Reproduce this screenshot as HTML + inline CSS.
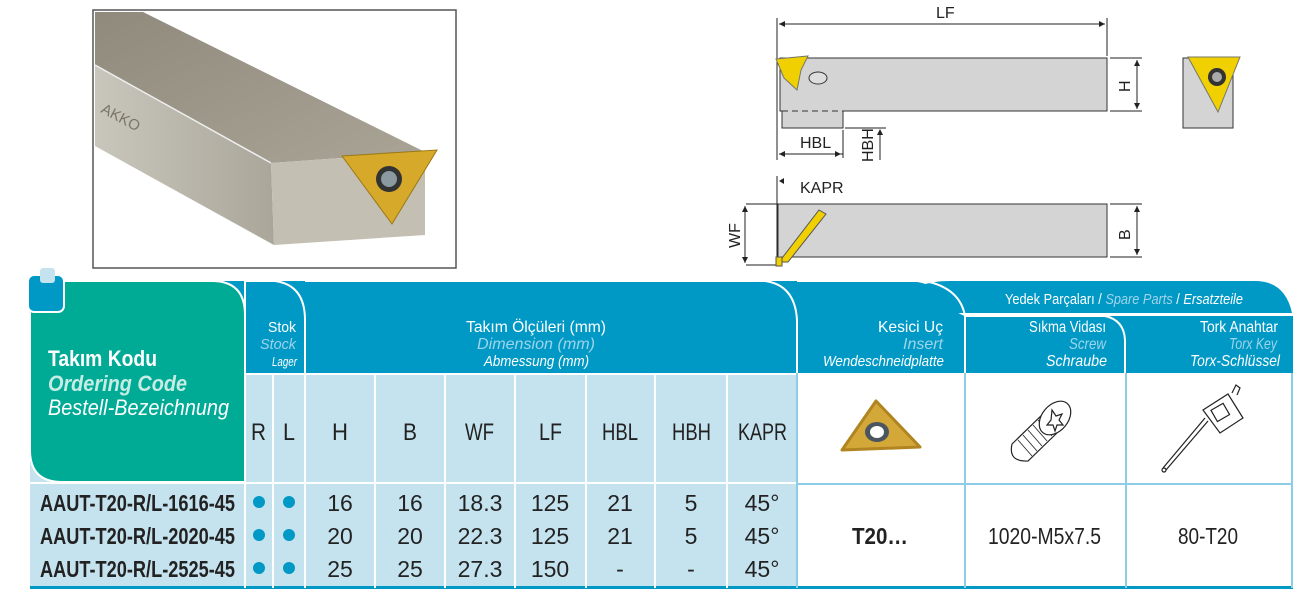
<!DOCTYPE html>
<html><head><meta charset="utf-8"><style>
html,body{margin:0;padding:0;background:#fff;width:1297px;height:596px;overflow:hidden}
svg{display:block}
text{font-family:"Liberation Sans",sans-serif}
</style></head><body>
<svg width="1297" height="596" viewBox="0 0 1297 596" xmlns="http://www.w3.org/2000/svg">
<defs>
<linearGradient id="top" x1="0" y1="0" x2="1" y2="1"><stop offset="0" stop-color="#8f8a7c"/><stop offset="1" stop-color="#a9a496"/></linearGradient>
<linearGradient id="side" x1="0" y1="0" x2="1" y2="0"><stop offset="0" stop-color="#c9c6bc"/><stop offset="1" stop-color="#aaa69a"/></linearGradient>
</defs>
<!-- photo -->
<rect x="93" y="10" width="363" height="258" fill="#fff" stroke="#555" stroke-width="1.5"/>
<polygon points="95,12 143,12 425,152 271,163 95,65" fill="url(#top)"/>
<polygon points="95,65 271,163 274,245 95,146" fill="url(#side)"/>
<polygon points="271,163 425,152 425,235 274,245" fill="#c3bfb3"/>
<line x1="95" y1="65" x2="271" y2="163" stroke="#eee" stroke-width="1.5"/>
<polygon points="342,156 437,150 392,224" fill="#d6a92a" stroke="#9a7812"/>
<circle cx="389" cy="179" r="13" fill="#333"/><circle cx="389" cy="179" r="8" fill="#8a9aa0"/>
<text x="100" y="112" font-size="15" fill="#7a7568" font-family="Liberation Serif,serif" transform="rotate(28 100 112)">AKKO</text>
<!-- top view drawing -->
<g stroke="#222" stroke-width="1" fill="none">
<line x1="777" y1="18" x2="777" y2="160"/><line x1="1107" y1="18" x2="1107" y2="56"/>
<line x1="779" y1="24" x2="1105" y2="24"/>
<line x1="1110" y1="58" x2="1142" y2="58"/><line x1="1110" y1="111" x2="1142" y2="111"/>
<line x1="1137" y1="60" x2="1137" y2="109"/>
<line x1="779" y1="154" x2="843" y2="154"/><line x1="843" y1="130" x2="843" y2="158"/>
<line x1="880" y1="90" x2="880" y2="109"/><line x1="880" y1="130" x2="880" y2="160"/>
<line x1="845" y1="128" x2="886" y2="128"/>
<line x1="746" y1="204" x2="778" y2="204"/><line x1="746" y1="265" x2="778" y2="265"/>
<line x1="745" y1="206" x2="745" y2="263"/>
<line x1="777" y1="176" x2="777" y2="265"/>
<line x1="1110" y1="204" x2="1142" y2="204"/><line x1="1110" y1="257" x2="1142" y2="257"/>
<line x1="1137" y1="206" x2="1137" y2="255"/>
</g>
<g fill="#222">
<polygon points="779,24 785,21 785,27"/><polygon points="1105,24 1099,21 1099,27"/>
<polygon points="1137,60 1134,66 1140,66"/><polygon points="1137,109 1134,103 1140,103"/>
<polygon points="779,154 785,151 785,157"/><polygon points="841,154 835,151 835,157"/>
<polygon points="880,110 877,104 883,104"/><polygon points="880,129 877,135 883,135"/>
<polygon points="745,206 742,212 748,212"/><polygon points="745,263 742,257 748,257"/>
<polygon points="1137,206 1134,212 1140,212"/><polygon points="1137,255 1134,249 1140,249"/>
<polygon points="779,181 784,178 784,184"/>
</g>
<rect x="780" y="58" width="327" height="53" fill="#d4d4d4" stroke="#333"/>
<rect x="782" y="111" width="61" height="17" fill="#d4d4d4" stroke="#333"/>
<line x1="783" y1="111" x2="842" y2="111" stroke="#d4d4d4" stroke-width="2"/>
<line x1="782" y1="111" x2="838" y2="111" stroke="#333" stroke-dasharray="6,4"/>
<polygon points="776,59 808,56 801,70 797,90 784,78" fill="#f0d000" stroke="#776"/>
<ellipse cx="818" cy="78" rx="9" ry="6" fill="#ddd" stroke="#333"/>
<rect x="1183" y="58" width="50" height="70" fill="#d4d4d4" stroke="#333"/>
<polygon points="1188,57 1240,57 1218,112" fill="#f0d000" stroke="#776"/>
<circle cx="1217" cy="77" r="9" fill="#333"/><circle cx="1217" cy="77" r="5" fill="#aaa"/>
<rect x="778" y="204" width="329" height="53" fill="#d4d4d4" stroke="#333"/>
<polygon points="779,262 819,210 826,214 788,262" fill="#f0d000" stroke="#555"/>
<rect x="776" y="257" width="6" height="9" fill="#f0d000" stroke="#555"/>
<g font-size="16" fill="#222">
<text x="936" y="18">LF</text>
<text x="800" y="148">HBL</text>
<text x="800" y="193">KAPR</text>
<text transform="translate(1130,92) rotate(-90)">H</text>
<text transform="translate(873,162) rotate(-90)">HBH</text>
<text transform="translate(740,248) rotate(-90)">WF</text>
<text transform="translate(1130,240) rotate(-90)">B</text>
</g>
<!-- table -->
<rect x="30" y="373" width="1263" height="215" fill="#c5e3ef"/>
<rect x="797" y="373" width="496" height="215" fill="#fff"/>
<rect x="30" y="586" width="1263" height="3" fill="#0099c6"/>
<!-- header tabs -->
<path d="M200,373 V281 H905 Q935,281 945,300 Q955,313 965,316 H1293 V373 Z" fill="#0099c6"/>
<path d="M903,313 V300 Q915,281 950,281 H1255 Q1285,281 1292,313 Z" fill="#0099c6"/>
<path d="M245,373 V281 H275 Q305,285 305,320 V373" fill="none" stroke="#fff" stroke-width="2"/>
<path d="M305,281 H765 Q795,285 797,320 V373" fill="none" stroke="#fff" stroke-width="2"/>
<path d="M797,281 H925 Q960,288 965,316 V373" fill="none" stroke="#fff" stroke-width="2"/>
<path d="M965,316 H1105 Q1124,320 1125,340 V373" fill="none" stroke="#fff" stroke-width="2"/>
<line x1="965" y1="315" x2="1293" y2="315" stroke="#fff" stroke-width="2"/>
<!-- teal -->
<path d="M30,281 H212 Q245,281 245,315 V482 H62 Q30,482 30,450 Z" fill="#00ab96" stroke="#fff" stroke-width="2"/>
<rect x="28" y="275" width="36" height="37" rx="6" fill="#0099c6" stroke="#fff" stroke-width="2"/>
<rect x="40" y="268" width="15" height="15" rx="3" fill="#c5e3ef"/>
<!-- grid lines -->
<g stroke="#fff" stroke-width="2">
<line x1="30" y1="483" x2="797" y2="483"/>
<line x1="245" y1="374" x2="797" y2="374"/>
<line x1="245" y1="373" x2="245" y2="588"/><line x1="273" y1="373" x2="273" y2="588"/>
<line x1="305" y1="373" x2="305" y2="588"/><line x1="375" y1="373" x2="375" y2="588"/>
<line x1="445" y1="373" x2="445" y2="588"/><line x1="515" y1="373" x2="515" y2="588"/>
<line x1="586" y1="373" x2="586" y2="588"/><line x1="655" y1="373" x2="655" y2="588"/>
<line x1="727" y1="373" x2="727" y2="588"/>
</g>
<g stroke="#8fcde6" stroke-width="2">
<line x1="797" y1="373" x2="797" y2="588"/><line x1="965" y1="373" x2="965" y2="588"/>
<line x1="1126" y1="373" x2="1126" y2="588"/><line x1="1292" y1="373" x2="1292" y2="588"/>
<line x1="797" y1="484" x2="1293" y2="484"/>
</g>
<!-- header text -->
<g fill="#fff" lengthAdjust="spacingAndGlyphs">
<text x="48" y="366" font-size="22" font-weight="bold" textLength="109" lengthAdjust="spacingAndGlyphs">Takım Kodu</text>
<text x="48" y="391" font-size="22" font-weight="bold" font-style="italic" fill="#c6ece4" textLength="139" lengthAdjust="spacingAndGlyphs">Ordering Code</text>
<text x="48" y="415" font-size="22" font-style="italic" textLength="181" lengthAdjust="spacingAndGlyphs">Bestell-Bezeichnung</text>
<text x="268" y="332" font-size="15" textLength="28" lengthAdjust="spacingAndGlyphs">Stok</text>
<text x="260" y="349" font-size="15" font-style="italic" fill="#9fd4ea" textLength="36" lengthAdjust="spacingAndGlyphs">Stock</text>
<text x="272" y="366" font-size="13" font-style="italic" textLength="25" lengthAdjust="spacingAndGlyphs">Lager</text>
<text x="878" y="332" font-size="16" textLength="65" lengthAdjust="spacingAndGlyphs">Kesici Uç</text>
<text x="903" y="349" font-size="16" font-style="italic" fill="#9fd4ea" textLength="40" lengthAdjust="spacingAndGlyphs">Insert</text>
<text x="823" y="366" font-size="15" font-style="italic" textLength="121" lengthAdjust="spacingAndGlyphs">Wendeschneidplatte</text>
<text x="1029" y="332" font-size="16" textLength="77" lengthAdjust="spacingAndGlyphs">Sıkma Vidası</text>
<text x="1069" y="349" font-size="16" font-style="italic" fill="#9fd4ea" textLength="37" lengthAdjust="spacingAndGlyphs">Screw</text>
<text x="1046" y="366" font-size="16" font-style="italic" textLength="61" lengthAdjust="spacingAndGlyphs">Schraube</text>
<text x="1200" y="332" font-size="16" textLength="78" lengthAdjust="spacingAndGlyphs">Tork Anahtar</text>
<text x="1229" y="349" font-size="16" font-style="italic" fill="#9fd4ea" textLength="48" lengthAdjust="spacingAndGlyphs">Torx Key</text>
<text x="1190" y="366" font-size="16" font-style="italic" textLength="90" lengthAdjust="spacingAndGlyphs">Torx-Schlüssel</text>
<text x="466" y="332" font-size="16" textLength="140" lengthAdjust="spacingAndGlyphs">Takım Ölçüleri (mm)</text>
<text x="477" y="349" font-size="16" font-style="italic" fill="#9fd4ea" textLength="118" lengthAdjust="spacingAndGlyphs">Dimension (mm)</text>
<text x="484" y="366" font-size="15" font-style="italic" textLength="105" lengthAdjust="spacingAndGlyphs">Abmessung (mm)</text>
<text x="1005" y="304" font-size="15" textLength="238" lengthAdjust="spacingAndGlyphs">Yedek Parçaları / <tspan font-style="italic" fill="#9fd4ea">Spare Parts</tspan> / <tspan font-style="italic">Ersatzteile</tspan></text>
</g>
<g font-size="24" fill="#222">
<text x="251" y="440" textLength="15" lengthAdjust="spacingAndGlyphs">R</text>
<text x="283" y="440" textLength="12" lengthAdjust="spacingAndGlyphs">L</text>
<text x="332" y="440" textLength="16" lengthAdjust="spacingAndGlyphs">H</text>
<text x="403" y="440" textLength="14" lengthAdjust="spacingAndGlyphs">B</text>
<text x="465" y="440" textLength="29" lengthAdjust="spacingAndGlyphs">WF</text>
<text x="539" y="440" textLength="23" lengthAdjust="spacingAndGlyphs">LF</text>
<text x="602" y="440" textLength="36" lengthAdjust="spacingAndGlyphs">HBL</text>
<text x="672" y="440" textLength="39" lengthAdjust="spacingAndGlyphs">HBH</text>
<text x="738" y="440" textLength="49" lengthAdjust="spacingAndGlyphs">KAPR</text>
</g>
<!-- rows -->
<g font-size="23" fill="#222" font-weight="bold">
<text x="40" y="511" textLength="195" lengthAdjust="spacingAndGlyphs">AAUT-T20-R/L-1616-45</text>
<text x="40" y="544" textLength="195" lengthAdjust="spacingAndGlyphs">AAUT-T20-R/L-2020-45</text>
<text x="40" y="577" textLength="195" lengthAdjust="spacingAndGlyphs">AAUT-T20-R/L-2525-45</text>
</g>
<g font-size="23" fill="#222" text-anchor="middle">
<text x="340" y="511">16</text><text x="410" y="511">16</text><text x="480" y="511">18.3</text><text x="550" y="511">125</text><text x="620" y="511">21</text><text x="691" y="511">5</text><text x="762" y="511">45°</text>
<text x="340" y="544">20</text><text x="410" y="544">20</text><text x="480" y="544">22.3</text><text x="550" y="544">125</text><text x="620" y="544">21</text><text x="691" y="544">5</text><text x="762" y="544">45°</text>
<text x="340" y="577">25</text><text x="410" y="577">25</text><text x="480" y="577">27.3</text><text x="550" y="577">150</text><text x="620" y="577">-</text><text x="691" y="577">-</text><text x="762" y="577">45°</text>
</g>
<g font-size="23" fill="#222">
<text x="852" y="544" font-weight="bold" textLength="56" lengthAdjust="spacingAndGlyphs">T20…</text>
<text x="988" y="544" textLength="113" lengthAdjust="spacingAndGlyphs">1020-M5x7.5</text>
<text x="1178" y="544" textLength="60" lengthAdjust="spacingAndGlyphs">80-T20</text>
</g>
<g fill="#0099c6">
<circle cx="259" cy="502" r="6"/><circle cx="289" cy="502" r="6"/>
<circle cx="259" cy="535" r="6"/><circle cx="289" cy="535" r="6"/>
<circle cx="259" cy="568" r="6"/><circle cx="289" cy="568" r="6"/>
</g>
<!-- insert image -->
<polygon points="876,401 920,447 842,450" fill="#d4a838" stroke="#b08420" stroke-linejoin="round" stroke-width="3"/>
<ellipse cx="877" cy="432" rx="12" ry="10" fill="#4a5560"/><ellipse cx="877" cy="432" rx="7" ry="6" fill="#fff"/>
<!-- screw -->
<g fill="#fff" stroke="#222" stroke-width="1.2">
<path d="M1012,444 L1045,412 L1060,430 L1028,461 Q1008,462 1012,444 Z"/>
<g stroke-width="0.8">
<line x1="1018" y1="440" x2="1032" y2="456"/><line x1="1023" y1="435" x2="1037" y2="451"/>
<line x1="1028" y1="430" x2="1042" y2="446"/><line x1="1033" y1="425" x2="1047" y2="441"/>
<line x1="1038" y1="420" x2="1052" y2="436"/>
</g>
<ellipse cx="1055" cy="418" rx="13" ry="19" transform="rotate(40 1055 418)"/>
<path d="M1052,410 l4,6 l6,-2 l-3,6 l4,5 l-6,0 l-2,6 l-2,-6 l-6,0 l4,-5 z"/>
</g>
<!-- torx key -->
<g fill="none" stroke="#222" stroke-width="1.2">
<path d="M1163,468 L1205,418"/><path d="M1166,470 L1208,421"/>
<path d="M1203,410 L1228,394 L1243,418 L1220,433 Z"/>
<rect x="1213" y="406" width="14" height="13" transform="rotate(-30 1220 412)"/>
<path d="M1232,393 l4,-8 l4,3 l-3,7"/>
<circle cx="1164" cy="470" r="2"/>
</g>
</svg>
</body></html>
